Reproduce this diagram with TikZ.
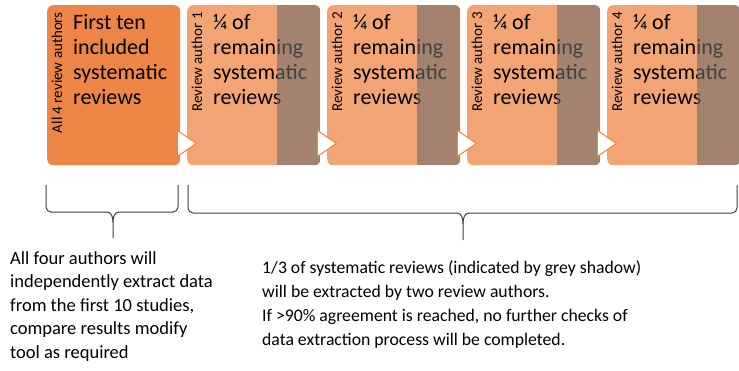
\documentclass[tikz,border=0pt]{standalone}
\usepackage{fontspec}
\setmainfont{Carlito}
\usetikzlibrary{positioning}
\definecolor{darkorange}{RGB}{237,133,70}
\definecolor{lightorange}{RGB}{243,164,116}
\definecolor{shadowgrey}{RGB}{110,110,110}
\definecolor{bracegrey}{RGB}{64,64,64}
\tikzset{
  stepbox/.style={rounded corners=6pt, minimum width=133pt, minimum height=160pt,
    inner sep=0pt, anchor=north west},
  boxtext/.style={anchor=north west, inner sep=0pt, align=left,
    font=\fontsize{22}{25}\selectfont},
  sidelabel/.style={rotate=90, anchor=east, inner sep=0pt,
    font=\fontsize{15}{18}\selectfont},
  flowtip/.style={fill=white, draw=darkorange, line width=1pt, line join=miter},
  bracket/.style={draw=bracegrey, line width=1pt},
  notetext/.style={anchor=north west, inner sep=0pt, align=left,
    font=\fontsize{18.5}{23.5}\selectfont}
}
\begin{document}
\begin{tikzpicture}[x=1pt,y=-1pt]
\useasboundingbox (0,0) rectangle (739,370);
% first step: all authors together
\node[stepbox, fill=darkorange] (box0) at (47,5) {};
\node[sidelabel] (lab0) at (57,12) {All 4 review authors};
\node[boxtext] (txt0) at (73,14) {First ten\\included\\systematic\\reviews};
% one step for each review author
\foreach \i/\x in {1/187,2/327,3/467,4/607} {
  \node[stepbox, fill=lightorange] (box\i) at (\x,5) {};
  \node[sidelabel] (lab\i) at (\x+10,12) {Review author \i};
  \node[boxtext] (txt\i) at (\x+26,14) {¼ of\\remaining\\systematic\\reviews};
  \begin{scope}
    \clip[rounded corners=6pt] (box\i.north west) rectangle (box\i.south east);
    \fill[shadowgrey, opacity=0.6] ([xshift=-43pt]box\i.north east) rectangle (box\i.south east);
  \end{scope}
}
% arrow tips between the steps
\foreach \i in {0,...,3} {
  \coordinate (tip\i) at ([xshift=-3pt,yshift=22pt]box\i.south east);
  \filldraw[flowtip] (tip\i) ++(0,-13) -- ++(19,13) -- ++(-19,13) -- cycle;
}
% brackets
\coordinate (lb) at (113,238);
\coordinate (rb) at (463,240);
\draw[bracket] (46,185) -- (46,207) to[out=-90,in=180] (51,212) -- (107,212)
  to[out=0,in=90] (113,222) -- (lb);
\draw[bracket] (113,222) to[out=90,in=180] (119,212) -- (173,212)
  to[out=0,in=-90] (178,207) -- (178,185);
\draw[bracket] (188,185) -- (188,208) to[out=-90,in=180] (193,213) -- (457,213)
  to[out=0,in=90] (463,224) -- (rb);
\draw[bracket] (463,224) to[out=90,in=180] (469,213) -- (732,213)
  to[out=0,in=-90] (737,208) -- (737,185);
% notes
\node[notetext] (noteall) at (10,251) {All four authors will\\independently extract data\\from the first 10 studies,\\compare results modify\\tool as required};
\node[notetext, font=\fontsize{17.7}{24}\selectfont] (notepair) at (262,260) {1/3 of systematic reviews (indicated by grey shadow)\\will be extracted by two review authors.\\If >90\% agreement is reached, no further checks of\\data extraction process will be completed.};
\end{tikzpicture}
\end{document}
